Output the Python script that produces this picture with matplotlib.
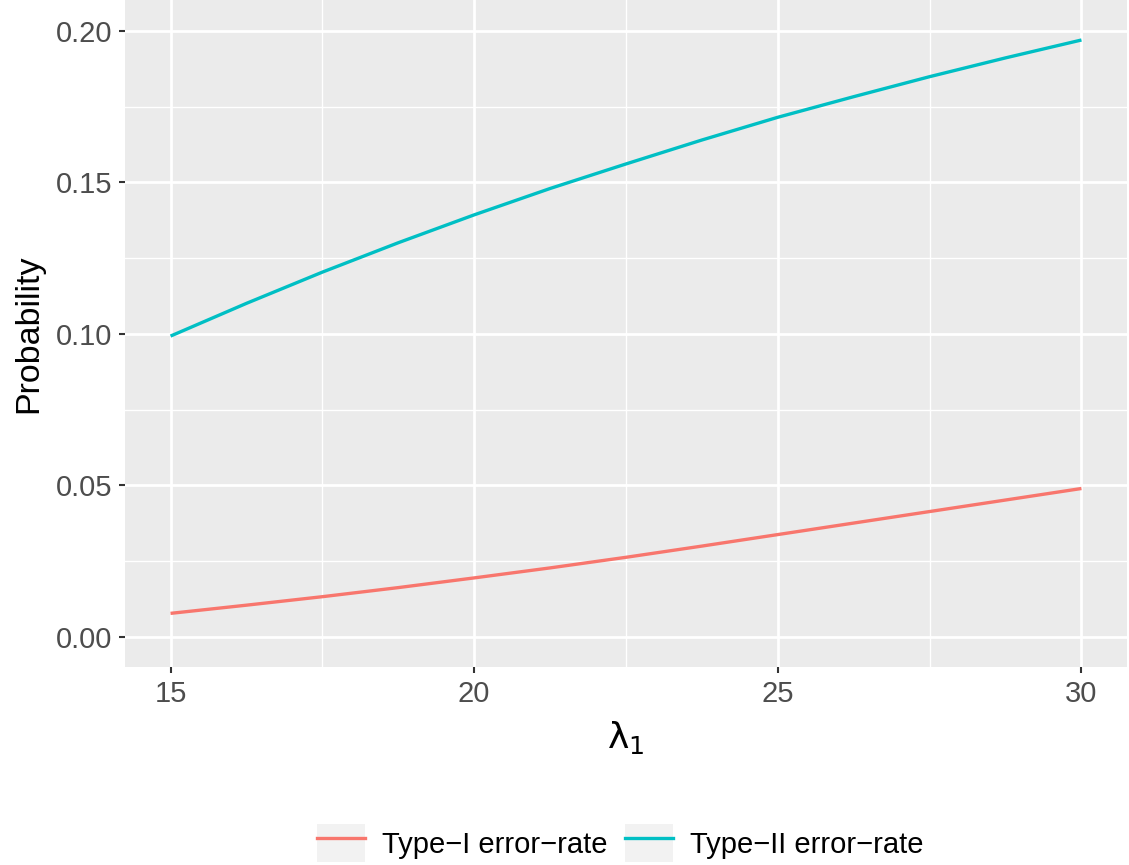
import matplotlib
matplotlib.use("Agg")
import matplotlib.pyplot as plt
from matplotlib.lines import Line2D
from matplotlib.patches import Patch

plt.rcParams['font.family'] = ['Liberation Sans', 'DejaVu Sans']
plt.rcParams['mathtext.fontset'] = 'dejavusans'

# values
lam1 = [15, 16.25, 17.5, 18.75, 20, 21.25, 22.5, 23.75, 25, 26.25, 27.5, 28.75, 30]
type1 = [0.0078, 0.0105, 0.0133, 0.0163, 0.0195, 0.0228, 0.0263, 0.0300,
         0.0338, 0.0376, 0.0414, 0.0452, 0.0490]
type2 = [0.0993, 0.1101, 0.1204, 0.1301, 0.1393, 0.1480, 0.1561, 0.1640,
         0.1715, 0.1783, 0.1849, 0.1911, 0.1970]
labels = ['Type\u2212I error\u2212rate', 'Type\u2212II error\u2212rate']
colors = ['#F8766D', '#00BFC4']

x_major = [15, 20, 25, 30]
x_minor = [17.5, 22.5, 27.5]
y_major = [0.00, 0.05, 0.10, 0.15, 0.20]
y_minor = [0.025, 0.075, 0.125, 0.175]

W, H = 1129, 865
fig = plt.figure(figsize=(W / 100, H / 100), dpi=100)
ax = fig.add_axes([125 / W, 1 - 667 / H, (1127 - 125) / W, 667 / H])
ax.set_facecolor('#EBEBEB')
for s in ax.spines.values():
    s.set_visible(False)

ax.plot(lam1, type1, color=colors[0], lw=2.4, solid_capstyle='butt', zorder=3)
ax.plot(lam1, type2, color=colors[1], lw=2.4, solid_capstyle='butt', zorder=3)

ax.set_xlim(14.25, 30.75)
ax.set_ylim(-0.0099, 0.2102)
ax.set_xticks(x_major)
ax.set_xticks(x_minor, minor=True)
ax.set_yticks(y_major)
ax.set_yticks(y_minor, minor=True)
ax.set_yticklabels([f'{v:.2f}' for v in y_major])
ax.grid(which='major', color='white', lw=2.0, zorder=1)
ax.grid(which='minor', color='white', lw=1.0, zorder=1)
ax.set_axisbelow(True)
ax.tick_params(which='major', length=4.3, width=1.5, color='#333333',
               labelcolor='#4D4D4D', labelsize=21, pad=5)
ax.tick_params(which='minor', length=0)

ax.set_ylabel('Probability', fontsize=24.5, color='black', labelpad=8)
ax.set_xlabel(r'$\mathrm{\lambda}_\mathrm{1}$', fontsize=26, color='black', labelpad=8)

handles = [(Patch(facecolor='#F2F2F2', edgecolor='none'),
            Line2D([], [], color=c, lw=2.4)) for c in colors]
fig.legend(handles, labels, loc='center', bbox_to_anchor=(620 / W, 1 - 843 / H),
           ncol=2, frameon=False, fontsize=21, handlelength=1.65,
           handleheight=1.65, handletextpad=0.58, columnspacing=0.6)

fig.savefig('out.png', dpi=100)
